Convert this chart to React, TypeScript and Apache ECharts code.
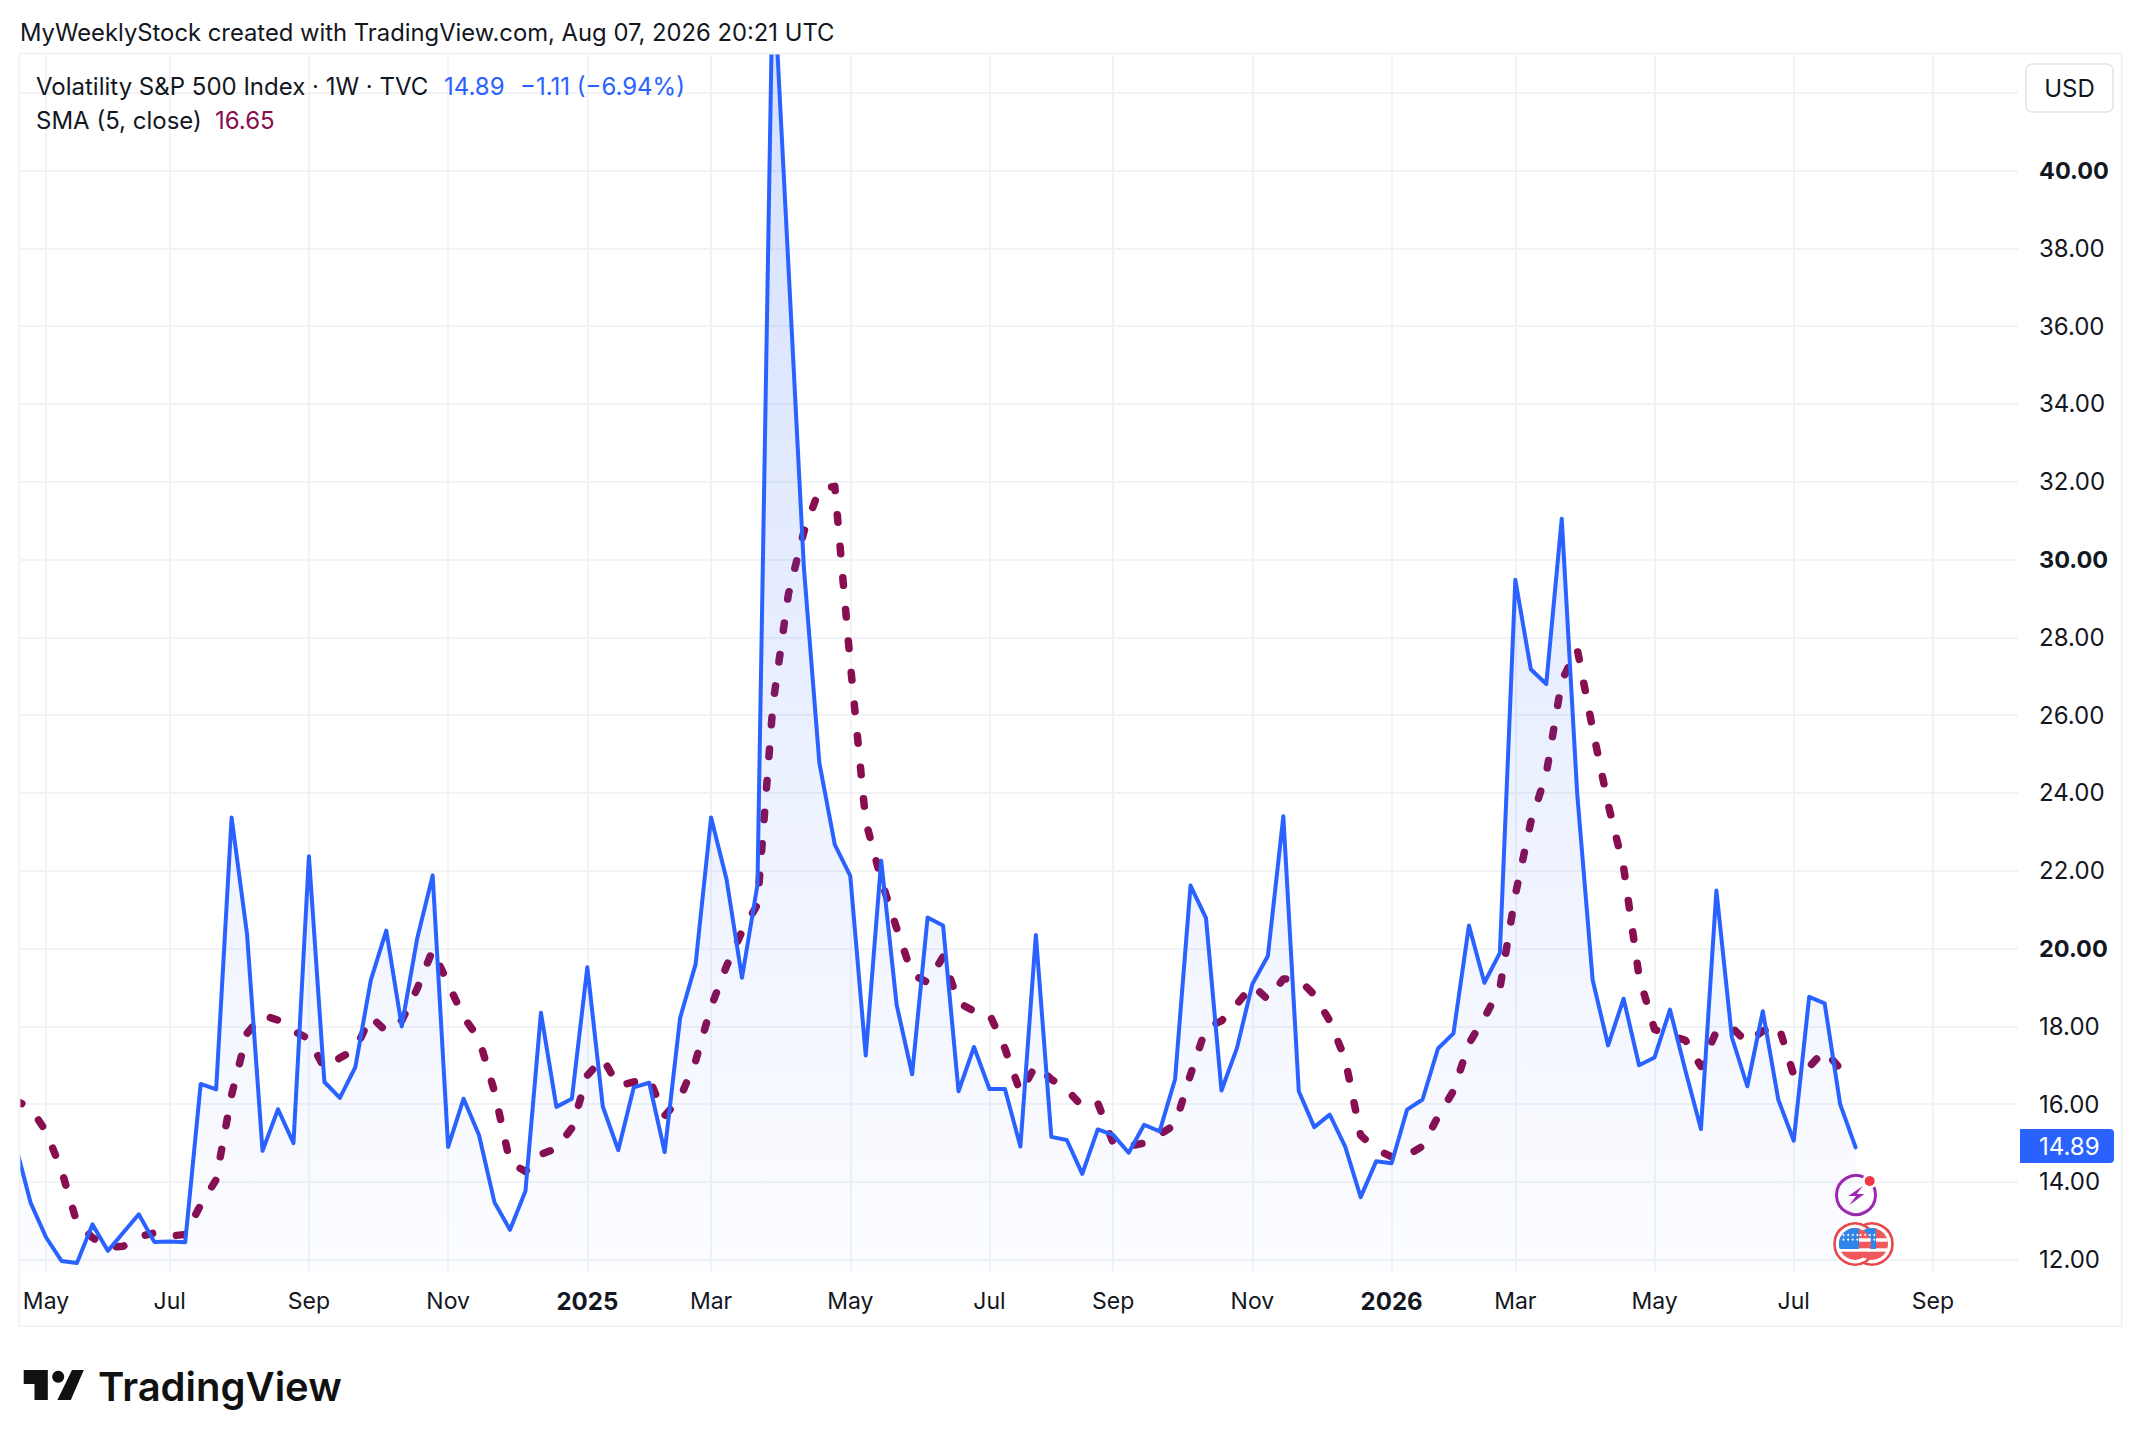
import React, { useEffect, useRef } from "react";
import * as echarts from "echarts";

// Week offsets from the first May 2024 weekly bar; the series start two weeks earlier.
const firstWeekOffset = -2;

const volatilityClose = [
  15.0, 13.47, 12.58, 11.97, 11.92, 12.91, 12.23, 12.7, 13.17, 12.46, 12.47, 12.45,
  16.52, 16.38, 23.37, 20.36, 14.8, 15.87, 15.0, 22.37, 16.57, 16.16, 16.95, 19.19,
  20.46, 18.0, 20.26, 21.88, 14.9, 16.14, 15.2, 13.47, 12.77, 13.77, 18.35, 15.93,
  16.14, 19.52, 15.94, 14.82, 16.43, 16.55, 14.77, 18.22, 19.6, 23.37, 21.78, 19.25,
  21.64, 45.31, 37.56, 29.8, 24.78, 22.67, 21.87, 17.25, 22.26, 18.55, 16.77, 20.8,
  20.59, 16.33, 17.47, 16.39, 16.39, 14.91, 20.35, 15.16, 15.08, 14.21, 15.35, 15.21,
  14.75, 15.47, 15.3, 16.64, 21.62, 20.78, 16.35, 17.44, 19.09, 19.81, 23.4, 16.33,
  15.41, 15.73, 14.91, 13.61, 14.53, 14.48, 15.86, 16.12, 17.43, 17.82, 20.59, 19.12,
  19.89, 29.48, 27.18, 26.8, 31.05, 23.98, 19.19, 17.51, 18.71, 17.0, 17.2, 18.43,
  16.86, 15.36, 21.49, 17.72, 16.46, 18.39, 16.12, 15.06, 18.76, 18.59, 16.0, 14.89,
];

const smaClose = [
  16.1, 15.9, 15.3, 14.3, 12.95, 12.57, 12.32, 12.35, 12.59, 12.69, 12.61, 12.65,
  13.41, 14.06, 16.24, 17.82, 18.29, 18.16, 17.88, 17.68, 16.92, 17.19, 17.41, 18.25,
  17.87, 18.15, 18.97, 19.96, 19.1, 18.24, 17.68, 16.32, 14.5, 14.27, 14.71, 14.86,
  15.39, 16.74, 17.18, 16.47, 16.57, 16.65, 15.7, 16.16, 17.11, 18.5, 19.55, 20.44,
  21.13, 26.27, 29.11, 30.71, 31.8, 31.88, 27.34, 23.27, 21.77, 20.52, 19.34, 19.13,
  19.79, 18.61, 18.39, 18.32, 17.43, 16.3, 17.0, 16.64, 16.38, 15.94, 16.03, 15.0,
  14.92, 15.0, 15.22, 15.47, 16.76, 17.96, 18.14, 18.57, 19.06, 18.69, 19.22, 19.21,
  18.81, 18.14, 17.16, 15.2, 14.84, 14.65, 14.68, 14.92, 15.68, 16.34, 17.56, 18.22,
  18.97, 21.38, 23.25, 24.49, 26.88, 27.7, 25.64, 23.71, 22.09, 19.28, 17.92, 17.77,
  17.64, 16.97, 17.87, 17.97, 17.58, 17.88, 18.04, 16.75, 16.96, 17.38, 16.91, 16.65,
];

const timeTickWeeks = [0, 8, 17, 26, 35, 43, 52, 61, 69, 78, 87, 95, 104, 113, 122];
const timeTickLabels = ["May", "Jul", "Sep", "Nov", "2025", "Mar", "May", "Jul", "Sep", "Nov", "2026", "Mar", "May", "Jul", "Sep"];
const boldTimeLabels = ["2025", "2026"];

const priceGridTicks = [12, 14, 16, 18, 20, 22, 24, 26, 28, 30, 32, 34, 36, 38, 40, 42];
const priceLabelTicks = [12, 14, 16, 18, 20, 22, 24, 26, 28, 30, 32, 34, 36, 38, 40];
const boldPriceTicks = [20, 30, 40];

const FONT = "Inter";
const INK = "#131722";
const BLUE = "#2962FF";
const MAROON = "#880E4F";
const GRID = "#f1f3f6";

echarts.graphic.registerShape(
  "flagCanton",
  echarts.graphic.extendPath("M4 -15.49 A16 16 0 0 0 -15.2 5 L4 5 Z", {})
);

function txt(text: string, x: number, y: number, size: number, fill: string, extra: any = {}) {
  return {
    type: "text",
    x,
    y,
    z: 20,
    silent: true,
    style: { text, fill, font: `${extra.weight || 400} ${size}px ${extra.family || FONT}`, textVerticalAlign: "middle", textAlign: extra.align || "left" },
  };
}

function coin(cx: number, cy: number) {
  const stripes = [
    [-5.7, -2.3],
    [4.3, 7.7],
  ];
  const dots: any[] = [];
  for (let r = 0; r < 3; r++)
    for (let c = 0; c < 4; c++)
      dots.push({ type: "circle", z: 23, shape: { cx: cx - 11.5 + c * 4.6, cy: cy - 9 + r * 4.6, r: 1 }, style: { fill: "#ffffff" } });
  return [
    { type: "circle", z: 21, shape: { cx, cy, r: 20.5 }, style: { fill: "#ffffff", stroke: "#e8474c", lineWidth: 2.6 } },
    { type: "circle", z: 22, shape: { cx, cy, r: 16 }, style: { fill: "#f0595c" } },
    ...stripes.map(([a, b]) => ({ type: "rect", z: 22, shape: { x: cx - 15.5, y: cy + a, width: 31, height: b - a }, style: { fill: "#ffffff" } })),
    { type: "flagCanton", z: 22, x: cx, y: cy, style: { fill: "#2f86e8" } },
    ...dots,
  ];
}

export default function App() {
  const ref = useRef<HTMLDivElement | null>(null);

  useEffect(() => {
    document.body.style.margin = "0";
    document.body.style.background = "#ffffff";
    const chart = echarts.init(ref.current!, undefined, { renderer: "svg" });
    const toPoints = (values: number[]) => values.map((v, i) => [i + firstWeekOffset, v]);

    chart.setOption({
      animation: false,
      backgroundColor: "#ffffff",
      grid: { left: 19.4, right: 124, top: 55.3, height: 1216, containLabel: false },
      xAxis: {
        type: "value",
        min: -1.72,
        max: 127.5,
        axisLine: { show: false },
        axisTick: { show: false, customValues: timeTickWeeks },
        axisLabel: {
          customValues: timeTickWeeks,
          margin: 18,
          color: INK,
          fontFamily: FONT,
          fontSize: 23,
          formatter: (v: number) => {
            const label = timeTickLabels[timeTickWeeks.indexOf(v)] ?? "";
            return boldTimeLabels.includes(label) ? `{b|${label}}` : label;
          },
          rich: { b: { fontFamily: FONT, fontSize: 24, fontWeight: 700, color: INK } },
        },
        splitLine: { show: true, lineStyle: { color: GRID, width: 2 } },
      },
      yAxis: {
        type: "value",
        position: "right",
        min: 11.704,
        max: 42.96,
        axisLine: { show: false },
        axisTick: { show: false, customValues: priceGridTicks },
        axisLabel: {
          customValues: priceLabelTicks,
          margin: 21,
          color: INK,
          fontFamily: FONT,
          fontSize: 24,
          formatter: (v: number) => {
            const label = v.toFixed(2);
            return boldPriceTicks.includes(v) ? `{b|${label}}` : label;
          },
          rich: { b: { fontFamily: FONT, fontSize: 23.5, fontWeight: 700, color: INK } },
        },
        splitLine: { show: true, lineStyle: { color: GRID, width: 2 } },
      },
      series: [
        {
          name: "SMA (5, close)",
          type: "line",
          data: toPoints(smaClose),
          showSymbol: false,
          symbol: "none",
          z: 3,
          lineStyle: { color: MAROON, width: 7.5, type: [7.5, 24.2], cap: "round", join: "round" },
        },
        {
          name: "Volatility S&P 500 Index",
          type: "line",
          data: toPoints(volatilityClose),
          showSymbol: false,
          symbol: "none",
          z: 4,
          lineStyle: { color: BLUE, width: 4, join: "round", cap: "round" },
          areaStyle: {
            origin: "start",
            color: new echarts.graphic.LinearGradient(
              0, 54, 0, 1270,
              [
                { offset: 0, color: "rgba(41,98,255,0.28)" },
                { offset: 1, color: "rgba(41,98,255,0.02)" },
              ],
              true
            ),
          },
        },
      ],
      graphic: {
        elements: [
          // white margins hide the few pixels by which the series clip overshoots the pane
          { type: "rect", z: 10, silent: true, shape: { x: 0, y: 44, width: 19.4, height: 1240 }, style: { fill: "#ffffff" } },
          { type: "rect", z: 10, silent: true, shape: { x: 0, y: 44, width: 2018, height: 10 }, style: { fill: "#ffffff" } },
          { type: "rect", z: 11, silent: true, shape: { x: 19.4, y: 53.5, width: 2102.3, height: 1272.5 }, style: { fill: "none", stroke: GRID, lineWidth: 2 } },
          txt("MyWeeklyStock created with TradingView.com, Aug 07, 2026 20:21 UTC", 20, 32, 23.8, INK),
          txt("Volatility S&P 500 Index · 1W · TVC", 36, 86, 24, INK),
          txt("14.89", 444, 86, 24, BLUE),
          txt("−1.11 (−6.94%)", 520, 86, 24, BLUE),
          txt("SMA (5, close)", 36, 120, 24, INK),
          txt("16.65", 215, 120, 24, MAROON),
          { type: "rect", z: 19, silent: true, shape: { x: 2026, y: 64, width: 87, height: 48, r: 6 }, style: { fill: "#ffffff", stroke: "#e3e5ea", lineWidth: 1.6 } },
          txt("USD", 2069.5, 88, 24, INK, { align: "center" }),
          { type: "rect", z: 19, silent: true, shape: { x: 2020, y: 1129, width: 94, height: 34, r: [0, 4, 4, 0] }, style: { fill: BLUE } },
          txt("14.89", 2039, 1146, 24, "#ffffff"),
          { type: "circle", z: 20, silent: true, shape: { cx: 1856, cy: 1195, r: 19.5 }, style: { fill: "rgba(255,255,255,0)", stroke: "#9c27b0", lineWidth: 3 } },
          { type: "circle", z: 21, silent: true, shape: { cx: 1869.7, cy: 1181, r: 7.5 }, style: { fill: "#ffffff" } },
          { type: "circle", z: 22, silent: true, shape: { cx: 1869.7, cy: 1181, r: 5 }, style: { fill: "#f23645" } },
          { type: "polygon", z: 21, silent: true, shape: { points: [[1862.7, 1186], [1848.3, 1196], [1856, 1196], [1849.3, 1205.3], [1864.3, 1194], [1856.7, 1194]] }, style: { fill: "#9c27b0" } },
          ...coin(1872, 1244),
          ...coin(1855, 1244),
          { type: "polygon", z: 20, silent: true, shape: { points: [[23.7, 1370], [47.8, 1370], [47.8, 1400], [34.5, 1400], [34.5, 1384], [23.7, 1384]] }, style: { fill: "#111111" } },
          { type: "circle", z: 20, silent: true, shape: { cx: 58.2, cy: 1376.7, r: 6 }, style: { fill: "#111111" } },
          { type: "polygon", z: 20, silent: true, shape: { points: [[72, 1370], [83.8, 1370], [70.8, 1400], [57.4, 1400]] }, style: { fill: "#111111" } },
          txt("TradingView", 98, 1386, 40, "#111111", { weight: 600 }),
        ],
      },
    });
    return () => chart.dispose();
  }, []);

  return (
    <div
      ref={ref}
      style={{ position: "absolute", left: 0, top: 0, width: 2142, height: 1446, background: "#ffffff" }}
    />
  );
}
